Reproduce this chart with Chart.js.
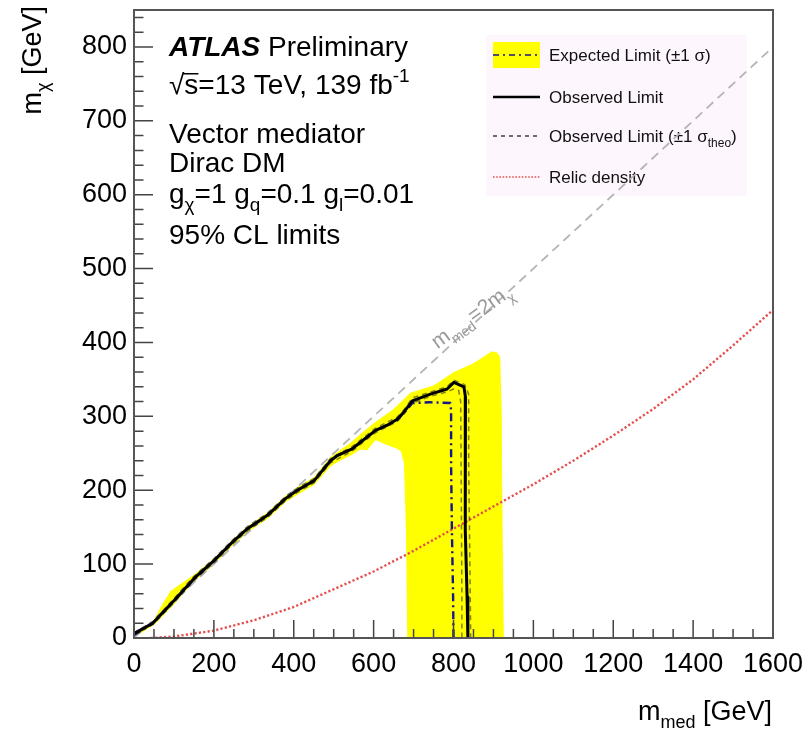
<!DOCTYPE html>
<html>
<head>
<meta charset="utf-8">
<script src="https://cdn.jsdelivr.net/npm/chart.js@4/dist/chart.umd.min.js"></script>
<style>
  html, body { margin: 0; padding: 0; background: #fff; }
  #wrap { position: relative; width: 809px; height: 730px; }
</style>
</head>
<body>
<div id="wrap"><canvas id="limits"></canvas></div>
<script>
// ── DATA ──────────────────────────────────────────────────────────
// [m_med, m_chi] in GeV
const xTicks = [0, 200, 400, 600, 800, 1000, 1200, 1400, 1600];
const yTicks = [0, 100, 200, 300, 400, 500, 600, 700, 800];

const observedLimit = [
  [0, 6], [47, 20], [101, 51], [151, 81], [201, 105], [243, 128], [284, 148],
  [334, 166], [380, 189], [409, 200], [451, 213], [492, 240], [509, 247],
  [546, 256], [567, 265], [605, 281], [634, 288], [659, 296], [676, 306],
  [697, 321], [742, 330], [784, 337], [801, 346], [826, 340], [830, 326],
  [829, 236], [830, 146], [834, 56], [836, 0]
];

const expectedLimit = [
  [0, 4], [47, 20], [101, 51], [151, 80], [201, 105], [243, 128], [284, 148],
  [334, 166], [380, 189], [409, 200], [451, 213], [492, 240], [509, 247],
  [546, 256], [567, 265], [605, 281], [634, 288], [659, 295], [676, 305],
  [697, 318], [740, 319], [792, 318], [794, 308], [794, 236], [796, 146],
  [799, 56], [800, 0]
];

// closed outline of the ±1 sigma expected band
const expectedBand = [
  [0, 2], [47, 22], [70, 45], [92, 64], [151, 86], [201, 108], [243, 131],
  [284, 151], [334, 170], [380, 193], [409, 204], [451, 218], [492, 245],
  [546, 266], [567, 276], [601, 291], [650, 310], [692, 332], [751, 342],
  [801, 360], [850, 372], [896, 388], [910, 386], [917, 380], [921, 300],
  [922, 200], [924, 100], [926, 0],
  [684, 0], [683, 60], [681, 146], [678, 200], [676, 236], [669, 252],
  [659, 256], [630, 262], [605, 268], [584, 254], [567, 255], [546, 248],
  [509, 238], [492, 232], [451, 207], [409, 194], [380, 184], [334, 161],
  [284, 143], [243, 123], [201, 100], [151, 77], [101, 46], [55, 20], [0, 0]
];

const theoUp = [
  [0, 7], [47, 22], [101, 54], [151, 84], [201, 108], [243, 131], [284, 151],
  [334, 169], [380, 192], [409, 203], [451, 216], [492, 243], [546, 259],
  [567, 268], [605, 284], [659, 299], [676, 309], [697, 325], [742, 333],
  [784, 340], [801, 349], [828, 343], [838, 330], [838, 236], [840, 146],
  [842, 56], [843, 0]
];

const theoDown = [
  [0, 4], [47, 18], [101, 48], [151, 78], [201, 102], [243, 125], [284, 145],
  [334, 163], [380, 186], [409, 197], [451, 210], [492, 237], [546, 253],
  [567, 262], [605, 278], [659, 293], [676, 303], [697, 318], [742, 327],
  [784, 333], [800, 337], [813, 335], [818, 320], [819, 236], [820, 146],
  [821, 56], [821, 0]
];

const relicDensity = [
  [42, 0], [100, 2], [200, 10], [300, 24], [400, 42], [500, 66], [600, 90],
  [700, 118], [800, 148], [900, 178], [1000, 208], [1100, 240], [1200, 274],
  [1300, 310], [1400, 350], [1500, 396], [1600, 444]
];

const kinematicLine = [[0, 0], [1600, 800]];

const X_MAX = 1600, Y_MAX = 850;

// ── STYLE ─────────────────────────────────────────────────────────
const FONT = "'Liberation Sans', Arial, Helvetica, sans-serif";
const COL_BAND = '#ffff00';
const COL_EXP = '#15158c';
const COL_OBS = '#000000';
const COL_THEO = 'rgba(30,30,30,0.55)';
const COL_RELIC = '#e5504e';
const COL_DIAG = '#b4b4b4';

Chart.defaults.font.family = FONT;
Chart.defaults.color = '#000';

const pts = arr => arr.map(([x, y]) => ({ x, y }));

// draw text made of [string, style] parts; style: '', 'bi', 'sub', 'sup'
function richText(ctx, x, y, parts, size, align = 'left') {
  const fontFor = st => {
    if (st === 'bi') return `italic bold ${size}px ${FONT}`;
    if (st === 'sub' || st === 'sup') return `${Math.round(size * 0.68)}px ${FONT}`;
    return `${size}px ${FONT}`;
  };
  const widths = parts.map(([t, st]) => { ctx.font = fontFor(st); return ctx.measureText(t).width; });
  const total = widths.reduce((a, b) => a + b, 0);
  let cx = align === 'right' ? x - total : x;
  ctx.textAlign = 'left';
  ctx.textBaseline = 'alphabetic';
  parts.forEach(([t, st], i) => {
    ctx.font = fontFor(st);
    const dy = st === 'sub' ? size * 0.3 : st === 'sup' ? -size * 0.42 : 0;
    ctx.fillText(t, cx, y + dy);
    cx += widths[i];
  });
  return total;
}

// ── LEGEND + LABELS ───────────────────────────────────────────────
const decorations = {
  id: 'decorations',
  beforeDatasetsDraw(chart) {
    const { ctx } = chart;
    ctx.save();

    // legend box
    ctx.fillStyle = '#fdf6fd';
    ctx.fillRect(486, 35, 261, 161);

    const sx0 = 493, sx1 = 540, tx = 549;
    const rows = [55, 97, 136, 177];

    ctx.fillStyle = COL_BAND;
    ctx.fillRect(sx0, 42, sx1 - sx0, 26);
    const sample = (y, color, width, dash) => {
      ctx.beginPath();
      ctx.strokeStyle = color; ctx.lineWidth = width; ctx.setLineDash(dash);
      ctx.moveTo(sx0, y); ctx.lineTo(sx1, y); ctx.stroke();
    };
    sample(rows[0], COL_EXP, 1.5, [6, 4, 2, 4]);
    sample(rows[1], COL_OBS, 2.5, []);
    sample(rows[2], '#111', 1.2, [4, 4]);
    sample(rows[3], COL_RELIC, 1.6, [1.6, 1.6]);
    ctx.setLineDash([]);

    ctx.fillStyle = '#111';
    richText(ctx, tx, rows[0] + 6, [['Expected Limit (±1 σ)', '']], 17);
    richText(ctx, tx, rows[1] + 6, [['Observed Limit', '']], 17);
    richText(ctx, tx, rows[2] + 6, [['Observed Limit (±1 σ', ''], ['theo', 'sub'], [')', '']], 17);
    richText(ctx, tx, rows[3] + 6, [['Relic density', '']], 17);

    // ATLAS label block
    ctx.fillStyle = '#000';
    const lx = 169;
    richText(ctx, lx, 56, [['ATLAS', 'bi'], [' Preliminary', '']], 28);
    richText(ctx, lx, 94, [['√s=13 TeV, 139 fb', ''], ['-1', 'sup']], 28);
    ctx.font = `28px ${FONT}`;
    const rootW = ctx.measureText('√').width;
    const sW = ctx.measureText('s').width;
    ctx.fillRect(lx + rootW - 1, 73, sW + 1, 1.5);
    richText(ctx, lx, 143, [['Vector mediator', '']], 28);
    richText(ctx, lx, 172, [['Dirac DM', '']], 28);
    richText(ctx, lx, 203, [['g', ''], ['χ', 'sub'], ['=1 g', ''], ['q', 'sub'], ['=0.1 g', ''], ['l', 'sub'], ['=0.01', '']], 28);
    richText(ctx, lx, 244, [['95% CL limits', '']], 28);

    // axis titles
    richText(ctx, 772, 720, [['m', ''], ['med', 'sub'], [' [GeV]', '']], 27, 'right');
    ctx.save();
    ctx.translate(41, 6);
    ctx.rotate(-Math.PI / 2);
    richText(ctx, 0, 0, [['m', ''], ['χ', 'sub'], [' [GeV]', '']], 27, 'right');
    ctx.restore();

    ctx.restore();
  },
  afterDatasetsDraw(chart) {
    const { ctx, chartArea: a, scales: { x, y } } = chart;
    ctx.save();

    // label along the m_med = 2 m_chi line
    const p0 = { x: x.getPixelForValue(760), y: y.getPixelForValue(380) };
    ctx.translate(p0.x, p0.y - 8);
    ctx.rotate(-36 * Math.PI / 180);
    ctx.fillStyle = '#9a9a9a';
    richText(ctx, 0, 0, [['m', ''], ['med', 'sub'], ['=2m', ''], ['χ', 'sub']], 21);
    ctx.setTransform(1, 0, 0, 1, 0, 0);

    // inward ticks, drawn over the band
    ctx.strokeStyle = '#444';
    ctx.lineWidth = 1.5;
    ctx.beginPath();
    for (let v = 0; v <= X_MAX; v += 50) {
      const px = x.getPixelForValue(v);
      const len = v % 200 === 0 ? 18 : 9;
      ctx.moveTo(px, a.bottom); ctx.lineTo(px, a.bottom - len);
    }
    for (let v = 0; v < Y_MAX; v += 20) {
      const py = y.getPixelForValue(v);
      const len = v % 100 === 0 ? 19 : 9.5;
      ctx.moveTo(a.left, py); ctx.lineTo(a.left + len, py);
    }
    ctx.stroke();

    ctx.strokeStyle = '#555';
    ctx.lineWidth = 2;
    ctx.strokeRect(a.left, a.top, a.right - a.left, a.bottom - a.top);
    ctx.restore();
  }
};

// ── CHART ─────────────────────────────────────────────────────────
const line = (label, data, color, width, dash, order, extra = {}) => ({
  label, data: pts(data), showLine: true, borderColor: color, borderWidth: width,
  borderDash: dash, pointRadius: 0, fill: false, tension: 0, order,
  borderJoinStyle: 'round', ...extra
});

new Chart(document.getElementById('limits'), {
  type: 'scatter',
  data: {
    datasets: [
      line('Observed Limit', observedLimit, COL_OBS, 3, [], 1),
      line('Expected Limit', expectedLimit, COL_EXP, 2.4, [8, 4, 2, 4], 2),
      line('Observed Limit +1 sigma theo', theoUp, COL_THEO, 1.5, [5, 4], 3),
      line('Observed Limit -1 sigma theo', theoDown, COL_THEO, 1.5, [5, 4], 3),
      line('Relic density', relicDensity, COL_RELIC, 2.4, [2.2, 2.2], 4),
      line('m_med = 2 m_chi', kinematicLine, COL_DIAG, 1.8, [9, 6], 5),
      line('Expected band', expectedBand, 'rgba(0,0,0,0)', 0, [], 6,
        { fill: 'shape', backgroundColor: COL_BAND })
    ]
  },
  options: {
    responsive: true,
    maintainAspectRatio: false,
    animation: false,
    events: [],
    layout: { padding: { top: 10, right: 36, bottom: 0, left: 0 } },
    plugins: { legend: { display: false }, tooltip: { enabled: false } },
    scales: {
      x: {
        type: 'linear', min: 0, max: X_MAX,
        afterBuildTicks: s => { s.ticks = xTicks.map(v => ({ value: v })); },
        afterFit: s => { s.height = 92; s.paddingLeft = 0; s.paddingRight = 0; },
        grid: { display: false, drawTicks: false },
        border: { display: false },
        ticks: { font: { size: 27 }, color: '#000', padding: 10, maxRotation: 0, autoSkip: false,
                 callback: v => String(v) }
      },
      y: {
        type: 'linear', min: 0, max: Y_MAX,
        afterBuildTicks: s => { s.ticks = yTicks.map(v => ({ value: v })); },
        afterFit: s => { s.width = 134; s.paddingTop = 0; s.paddingBottom = 0; },
        grid: { display: false, drawTicks: false },
        border: { display: false },
        ticks: { font: { size: 27 }, color: '#000', padding: 7, autoSkip: false,
                 callback: v => String(v) }
      }
    }
  },
  plugins: [decorations]
});
</script>
</body>
</html>
